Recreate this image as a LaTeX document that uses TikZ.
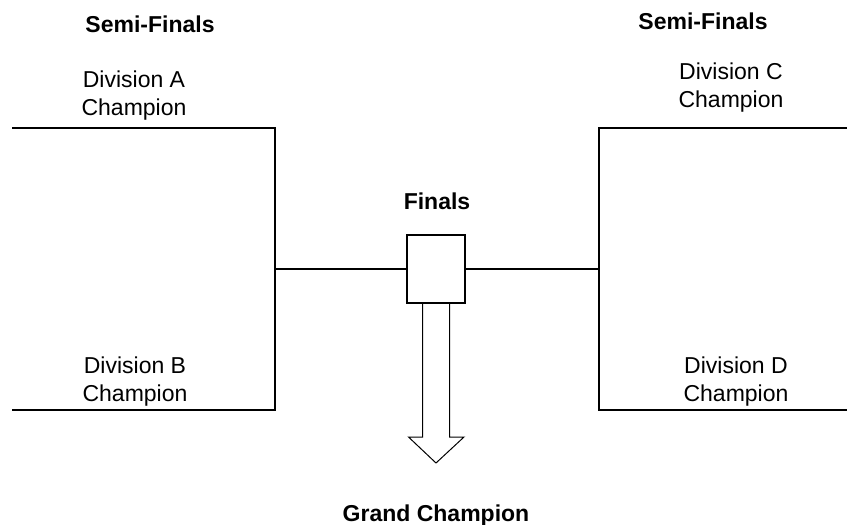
\documentclass[tikz,border=0pt]{standalone}
\usepackage{fontspec}
\setmainfont{Liberation Sans}
\usetikzlibrary{calc}
\begin{document}
\begin{tikzpicture}[x=1pt,y=-1pt,
  lbl/.style={font=\fontsize{23}{28}\selectfont,align=center,inner sep=0pt,anchor=base},
  ttl/.style={font=\bfseries\fontsize{23}{28}\selectfont,inner sep=0pt,anchor=base},
  bracket/.style={line width=2pt,line join=miter},
  link/.style={line width=2pt},
  finalbox/.style={draw,line width=2pt,minimum width=58pt,minimum height=68pt,inner sep=0pt},
  bigarrow/.style={line width=1pt,line join=miter}]
\useasboundingbox (0,0) rectangle (847,525);
% titles
\node[ttl] (semiL) at (150,32) {Semi-Finals};
\node[ttl] (semiR) at (703,29) {Semi-Finals};
\node[ttl] (finals) at (437,209) {Finals};
\node[ttl] (grand) at (436,521) {Grand Champion};
% division labels
\node[lbl] (divA) at (134,115) {Division A\\Champion};
\node[lbl] (divB) at (135,401) {Division B\\Champion};
\node[lbl] (divC) at (731,107) {Division C\\Champion};
\node[lbl] (divD) at (736,401) {Division D\\Champion};
% final box
\node[finalbox] (box) at (436,269) {};
% bracket corners
\coordinate (lA) at (12,128);
\coordinate (lAc) at (275,128);
\coordinate (lBc) at (275,410);
\coordinate (lB) at (12,410);
\coordinate (lM) at (275,269);
\coordinate (rC) at (847,128);
\coordinate (rCc) at (599,128);
\coordinate (rDc) at (599,410);
\coordinate (rD) at (847,410);
\coordinate (rM) at (599,269);
\draw[bracket] (lA) -- (lAc) -- (lBc) -- (lB);
\draw[bracket] (rC) -- (rCc) -- (rDc) -- (rD);
\draw[link] (lM) -- (box.west);
\draw[link] (box.east) -- (rM);
% arrow to grand champion
\coordinate (tip) at (436,463);
\draw[bigarrow] ($(box.south)+(-13.5,0)$) -- ++(0,133) -- ++(-14,0) -- (tip)
  -- ($(box.south)+(28,133)$) -- ++(-14.5,0) -- ($(box.south)+(13.5,0)$);
\end{tikzpicture}
\end{document}
